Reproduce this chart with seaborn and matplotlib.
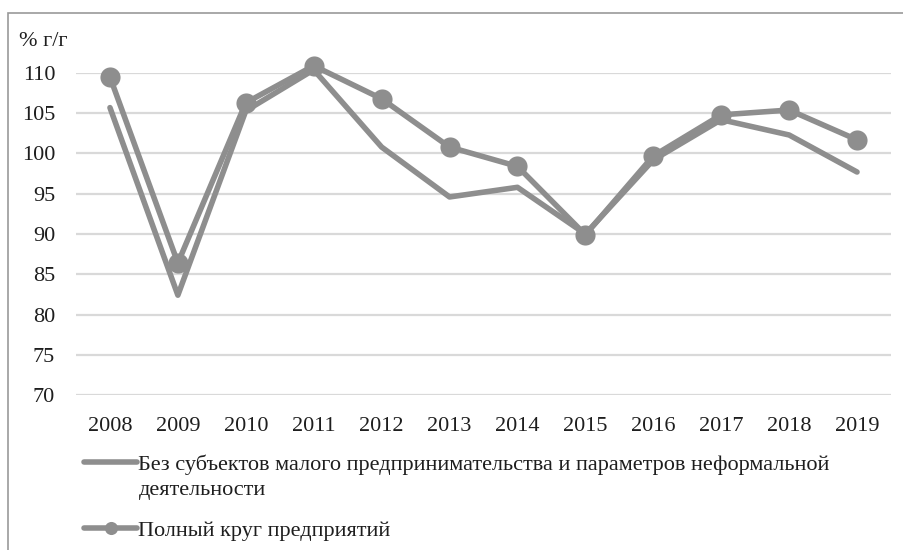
import matplotlib
matplotlib.use("Agg")
import matplotlib.pyplot as plt
import seaborn as sns
import pandas as pd
from matplotlib.patches import Rectangle

years = ["2008", "2009", "2010", "2011", "2012", "2013", "2014", "2015",
         "2016", "2017", "2018", "2019"]
without_small = [105.7, 82.4, 105.3, 110.4, 100.8, 94.6, 95.8, 90.0,
                 99.2, 104.2, 102.3, 97.7]
full_circle = [109.5, 86.4, 106.3, 110.9, 106.8, 100.8, 98.4, 89.9,
               99.7, 104.8, 105.4, 101.7]
label_a = "Без субъектов малого предпринимательства и параметров неформальной"
label_a_cont = "деятельности"
label_b = "Полный круг предприятий"
y_ticks = [70, 75, 80, 85, 90, 95, 100, 105, 110]
y_label = "% г/г"

df = pd.DataFrame({"year": years * 2,
                   "value": without_small + full_circle,
                   "series": [label_a] * len(years) + [label_b] * len(years)})

sns.set_theme(style="white")
plt.rcParams["font.family"] = ["Liberation Serif", "DejaVu Serif"]

fig = plt.figure(figsize=(9.04, 5.5), dpi=100)
W, H = 904, 550
ax = fig.add_axes([76 / W, 1 - 395 / H, (891 - 76) / W, (395 - 73) / H])

gray = "#8e8e8e"
txt = "#1e1e1e"
sns.lineplot(data=df[df.series == label_a], x="year", y="value", ax=ax,
             color=gray, linewidth=4, label=label_a, clip_on=False,
             solid_capstyle="round", solid_joinstyle="round")
sns.lineplot(data=df[df.series == label_b], x="year", y="value", ax=ax,
             color=gray, linewidth=4, marker="o", markersize=14.5,
             markeredgewidth=0, label=label_b, clip_on=False,
             solid_joinstyle="round")

ax.set_xlim(-0.5, len(years) - 0.5)
ax.set_ylim(70, 110)
ax.set_yticks(y_ticks)
ax.yaxis.grid(True, color="#d9d9d9", linewidth=1.6)
ax.set_axisbelow(True)
for s in ax.spines.values():
    s.set_visible(False)
ax.tick_params(axis="y", length=0, pad=15, labelsize=16, labelcolor=txt)
ax.tick_params(axis="x", length=0, pad=16, labelsize=16, labelcolor=txt)
ax.set_xlabel("")
ax.set_ylabel("")
ax.legend_.remove()

fig.text(19 / W, 1 - 42 / H, y_label, fontsize=16, color=txt,
         va="center", ha="left")

handles, labels = ax.get_legend_handles_labels()
leg = fig.legend(handles, labels, loc="upper left",
                 bbox_to_anchor=(64 / W, 1 - 434 / H), frameon=False,
                 fontsize=16, handlelength=2.4, handletextpad=0.05,
                 labelspacing=2.05, labelcolor=txt, markerscale=0.65)

# continuation line of the first legend label, placed under its first line
fig.canvas.draw()
t0 = leg.get_texts()[0]
bb = t0.get_window_extent()
fig.text(bb.x0 / W, (bb.y0 - 25) / H, label_a_cont, fontsize=16, color=txt,
         ha="left", va="bottom")

fig.patches.append(Rectangle((8 / W, -0.1), 1.2, 1 - 13 / H + 0.1,
                             transform=fig.transFigure, fill=False,
                             edgecolor="#999999", linewidth=1.2))

fig.savefig("out.png", dpi=100)
